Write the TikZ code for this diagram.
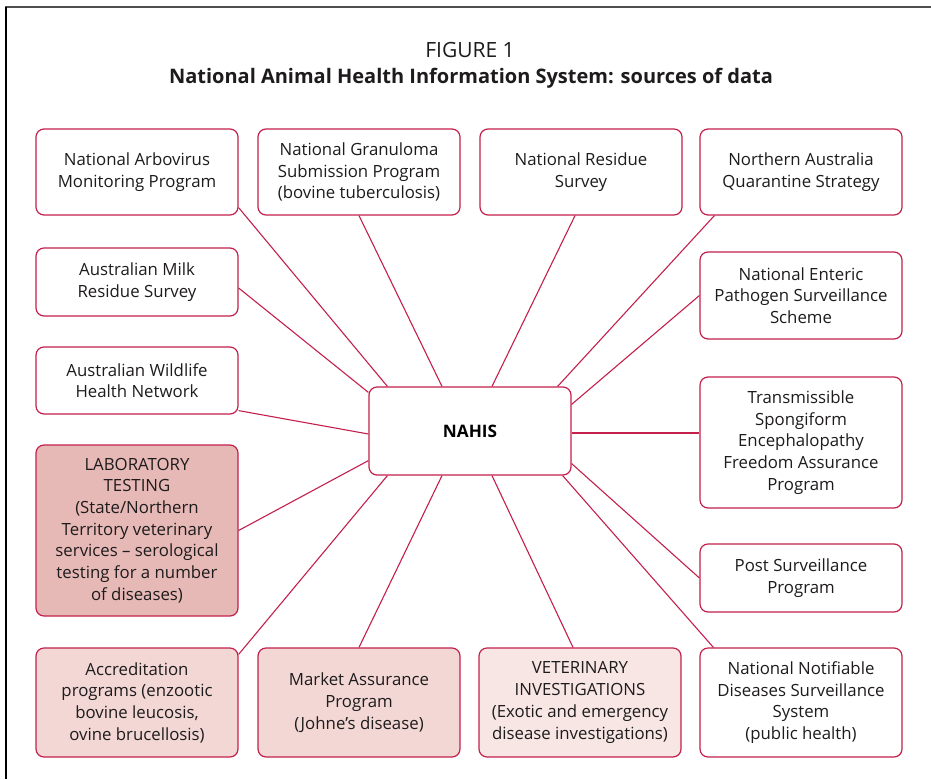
\documentclass[tikz,border=0pt]{standalone}
\usepackage{fontspec}
\setmainfont{Open Sans}
\usetikzlibrary{calc}
\definecolor{crim}{RGB}{196,32,76}
\definecolor{txt}{RGB}{30,27,28}
\definecolor{fillA}{RGB}{230,185,182}
\definecolor{fillB}{RGB}{242,215,213}
\definecolor{fillC}{RGB}{247,230,228}
\tikzset{
  src/.style={draw=crim, line width=1.2pt, rounded corners=8pt, fill=white,
    align=center, text=txt, inner sep=2pt,
    font=\fontsize{16.8}{21.7}\selectfont},
  link/.style={draw=crim, line width=1.1pt},
}
\begin{document}
\begin{tikzpicture}[x=1pt,y=-1pt]
\useasboundingbox (0,0) rectangle (931,779);
\fill[white] (0,0) rectangle (931,779);
% frame
\draw[line width=2.4pt, color={rgb,255:red,80;green,80;blue,80}] (5,7) -- (931,7);
\draw[line width=1.5pt, black] (6,7) -- (6,779);
% titles
\node[text=txt, font=\fontsize{21}{24}\selectfont] (fig) at (470,50) {FIGURE 1};
\node[text=txt, font=\fontsize{20}{24}\selectfont\bfseries] (title) at (471,78) {National Animal Health Information System: sources of data};
% central node
\node[src, minimum width=202, minimum height=88, font=\fontsize{17.2}{20}\selectfont\bfseries, text=black] (nahis) at (470,431) {NAHIS};
% top row
\node[src, minimum width=202, minimum height=86] (arb) at (137,172) {National Arbovirus\\Monitoring Program};
\node[src, minimum width=202, minimum height=86] (gran) at (359,172) {National Granuloma\\Submission Program\\(bovine tuberculosis)};
\node[src, minimum width=202, minimum height=86] (res) at (581,172) {National Residue\\Survey};
\node[src, minimum width=202, minimum height=86] (naqs) at (801,172) {Northern Australia\\Quarantine Strategy};
% left column
\node[src, minimum width=202, minimum height=68] (milk) at (137,282) {Australian Milk\\Residue Survey};
\node[src, minimum width=202, minimum height=67] (wild) at (137,380.5) {Australian Wildlife\\Health Network};
\node[src, fill=fillA, minimum width=202, minimum height=171] (lab) at (137,530.5) {LABORATORY\\TESTING\\(State/Northern\\Territory veterinary\\services -- serological\\testing for a number\\of diseases)};
% right column
\node[src, minimum width=202, minimum height=87] (ent) at (801,295.5) {National Enteric\\Pathogen Surveillance\\Scheme};
\node[src, minimum width=202, minimum height=131] (tse) at (801,442.5) {Transmissible\\Spongiform\\Encephalopathy\\Freedom Assurance\\Program};
\node[src, minimum width=202, minimum height=68] (post) at (801,578) {Post Surveillance\\Program};
% bottom row
\node[src, fill=fillB, minimum width=202, minimum height=109] (acc) at (137,702.5) {Accreditation\\programs (enzootic\\bovine leucosis,\\ovine brucellosis)};
\node[src, fill=fillB, minimum width=202, minimum height=109] (mkt) at (359,702.5) {Market Assurance\\Program\\(Johne’s disease)};
\node[src, fill=fillC, minimum width=202, minimum height=109] (vet) at (580,702.5) {VETERINARY\\INVESTIGATIONS\\(Exotic and emergency\\disease investigations)};
\node[src, minimum width=202, minimum height=109] (nnd) at (801,702.5) {National Notifiable\\Diseases Surveillance\\System\\(public health)};
% connectors
\draw[link] ([yshift=8]arb.south east) -- ([xshift=19]nahis.north west);
\draw[link] (gran.south) -- ([xshift=-28]nahis.north);
\draw[link] ([xshift=-6]res.south) -- ([xshift=22]nahis.north);
\draw[link] ([xshift=15]naqs.south west) -- ([xshift=-14]nahis.north east);
\draw[link] ([yshift=-6]milk.east) -- ([yshift=-6]nahis.north west);
\draw[link] ([yshift=4]wild.south east) -- ([yshift=-3]nahis.west);
\draw[link] (lab.east) -- ([yshift=15]nahis.south west);
\draw[link] ([yshift=-7]acc.north east) -- ([xshift=19]nahis.south west);
\draw[link] (mkt.north) -- ([xshift=-28]nahis.south);
\draw[link] ([xshift=-7]vet.north) -- ([xshift=22]nahis.south);
\draw[link] ([xshift=14]nnd.north west) -- ([xshift=-9]nahis.south east);
\draw[link] (post.west) -- ([yshift=12]nahis.south east);
\draw[link] ([yshift=-2]nahis.east) -- ([yshift=-2]nahis.east -| tse.west);
\draw[link] (ent.west) -- ([yshift=-18]nahis.north east);
\end{tikzpicture}
\end{document}
